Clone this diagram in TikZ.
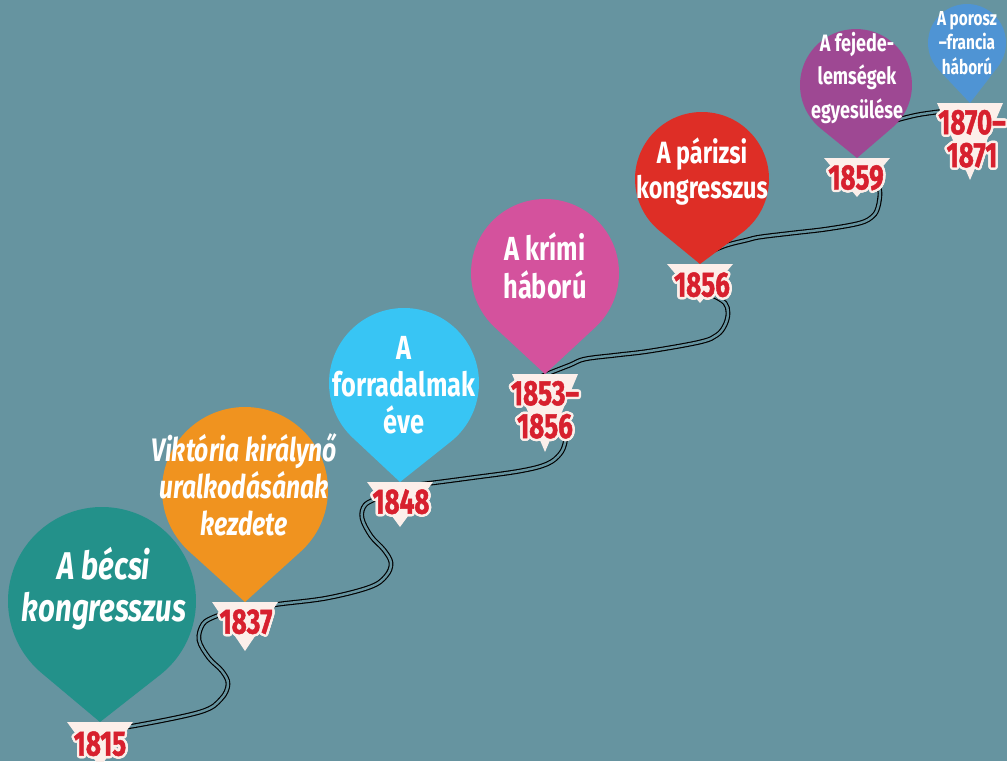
\documentclass[tikz,border=0pt]{standalone}
\usepackage{fontspec}
\setmainfont[FakeStretch=0.76]{Fira Sans}
\newfontfamily\yearfont[FakeStretch=0.74, BoldFeatures={FakeBold=1.3}]{Fira Sans}
\usepackage{contour}
\contourlength{1.4pt}

\definecolor{bgcol}{RGB}{102,148,160}
\definecolor{tealc}{RGB}{35,145,138}
\definecolor{orangec}{RGB}{240,147,31}
\definecolor{cyanc}{RGB}{56,197,244}
\definecolor{pinkc}{RGB}{212,82,157}
\definecolor{redc}{RGB}{222,46,38}
\definecolor{purplec}{RGB}{158,72,147}
\definecolor{bluec}{RGB}{79,148,212}
\definecolor{creamc}{RGB}{252,239,234}
\definecolor{yearred}{RGB}{215,32,46}

\newcommand{\yr}[1]{\contour{creamc}{#1}}

% balloon: colour, centre x, centre y, radius, tip x, tip y
\newcommand{\balloon}[6]{%
  \pgfmathsetmacro{\pinphi}{atan2((#6)-(#3),(#5)-(#2))}%
  \pgfmathsetmacro{\pinbeta}{acos((#4)/veclen((#5)-(#2),(#6)-(#3)))}%
  \pgfmathsetmacro{\pinstart}{\pinphi+\pinbeta}%
  \pgfmathsetmacro{\pinend}{\pinphi-\pinbeta+360}%
  \fill[#1] (#5,#6) -- ({#2+#4*cos(\pinstart)},{#3+#4*sin(\pinstart)})
    arc[start angle=\pinstart, end angle=\pinend, radius=#4] -- cycle;}

% year triangle: x, top, bottom
\newcommand{\yeartri}[3]{%
  \fill[yearbox] ({#1-33},#2) -- ({#1+33},#2) -- (#1,#3) -- cycle;}

\tikzset{
  road/.style={line width=0.65pt, double=bgcol, double distance=1.4pt},
  yearbox/.style={fill=creamc},
  event/.style={text=white, align=center, inner sep=0pt},
  year/.style={text=yearred, align=center, inner sep=0pt,
    font=\yearfont\bfseries\fontsize{20}{18.7}\selectfont},
}

\begin{document}
\begin{tikzpicture}[x=0.02cm,y=0.02cm]
\useasboundingbox (0,0) rectangle (1007,-761);
\fill[bgcol] (0,0) rectangle (1007,-761);
\clip (0,0) rectangle (1007,-761);

% tips
\coordinate (t1815) at (100,-722);
\coordinate (t1837) at (245,-602);
\coordinate (t1848) at (400,-482);
\coordinate (t1853) at (545,-374);
\coordinate (t1856) at (700,-264);
\coordinate (t1859) at (857,-158);
\coordinate (t1870) at (970,-103);

% the road
\draw[road] plot[smooth, tension=0.6] coordinates {([shift={(15,-5)}]t1815)
  (133,-726) (200,-712) (221,-699) (228,-684) (222,-671) (209,-658) (199,-640)
  (203,-624) (214,-617) ([shift={(-21,-12)}]t1837)};
\draw[road] plot[smooth, tension=0.6] coordinates {([shift={(17,-5)}]t1837)
  (280,-604) (327,-598) (370,-587) (386,-576) (391,-563) (384,-550) (371,-536)
  (362,-518) (365,-505) ([shift={(-22,-16)}]t1848)};
\draw[road] plot[smooth, tension=0.6] coordinates {([shift={(15,-3)}]t1848)
  (432,-483) (470,-478) (520,-471) (547,-464) (560,-454) (565,-443)
  ([shift={(20,-60)}]t1853)};
\draw[road] plot[smooth, tension=0.6] coordinates {([shift={(-5,-3)}]t1853)
  (552,-372) (570,-365) (585,-359) (617,-355) (650,-351) (700,-342) (717,-335)
  (725,-325) (728,-313) (725,-303) ([shift={(14,-32)}]t1856)};
\draw[road] plot[smooth, tension=0.6] coordinates {([shift={(12,13)}]t1856)
  (727,-245) (747,-240) (760,-237) (793,-233) (827,-229) (860,-223) (873,-216)
  (878,-207) (880,-193) ([shift={(21,-28)}]t1859)};
\draw[road] plot[smooth, tension=0.6] coordinates {([shift={(33,35)}]t1859)
  (897,-120) (917,-115) (937,-112) ([shift={(-24,-8)}]t1870)};

% balloons
\balloon{tealc}{102}{-601}{94}{100}{-722}
\balloon{orangec}{245}{-490}{83}{245}{-602}
\balloon{cyanc}{404}{-383}{75}{400}{-482}
\balloon{pinkc}{545}{-273}{74}{545}{-374}
\balloon{redc}{702}{-179}{67}{700}{-264}
\balloon{purplec}{856}{-85}{56}{857}{-158}
\balloon{bluec}{967}{-43}{39}{970}{-103}

% year triangles
\yeartri{100}{-722}{-767}
\yeartri{245}{-602}{-651}
\yeartri{400}{-482}{-527}
\yeartri{545}{-374}{-452}
\yeartri{700}{-264}{-303}
\yeartri{857}{-158}{-197}
\yeartri{970}{-103}{-180}

% events
\node[event, font=\bfseries\itshape\fontsize{22}{24}\selectfont] (e1815) at (104,-589)
  {A bécsi\\kongresszus};
\node[event, font=\bfseries\itshape\fontsize{18.5}{21}\selectfont] (e1837) at (244,-485)
  {Viktória királynő\\uralkodásának\\kezdete};
\node[event, font=\bfseries\fontsize{19}{21}\selectfont] (e1848) at (404,-385)
  {A\\forradalmak\\éve};
\node[event, font=\bfseries\fontsize{19}{22}\selectfont] (e1853) at (545,-266)
  {A krími\\háború};
\node[event, font=\bfseries\fontsize{17.5}{20}\selectfont] (e1856) at (702,-172)
  {A párizsi\\kongresszus};
\node[event, font=\bfseries\fontsize{13.5}{19.3}\selectfont] (e1859) at (857,-78)
  {A fejede-\\lemségek\\egyesülése};
\node[event, font=\bfseries\fontsize{11.5}{14}\selectfont] (e1870) at (967,-43)
  {A porosz\\–francia\\háború};

% years
\node[year] (y1815) at (100,-745) {\yr{1815}};
\node[year] (y1837) at (246,-623) {\yr{1837}};
\node[year] (y1848) at (401,-503) {\yr{1848}};
\node[year] (y1853) at (545,-411) {\yr{1853–}\\\yr{1856}};
\node[year] (y1856) at (702,-286) {\yr{1856}};
\node[year] (y1859) at (856,-179) {\yr{1859}};
\node[year] (y1870) at (972,-140) {\yr{1870–}\\\yr{1871}};
\end{tikzpicture}
\end{document}
